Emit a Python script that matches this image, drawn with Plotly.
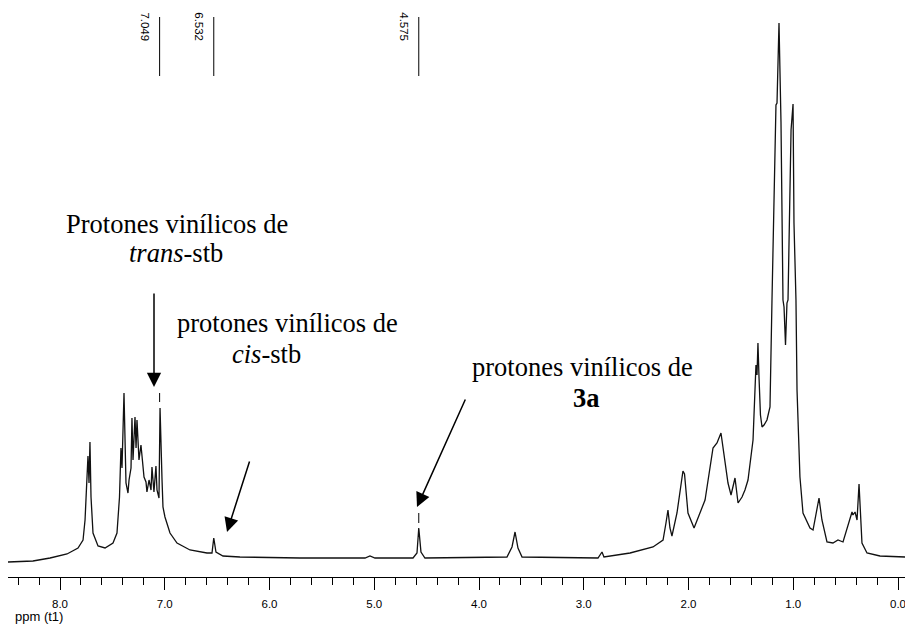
import plotly.graph_objects as go

# ---- data (chemical shift in ppm, intensity in a.u.) ----
ppm = [8.497, 8.258, 8.095, 7.933, 7.828, 7.780, 7.761, 7.742, 7.733, 7.723, 7.714, 7.704, 7.685,
       7.637, 7.570, 7.494, 7.456, 7.432, 7.418, 7.408, 7.389, 7.370, 7.351, 7.341, 7.322, 7.313,
       7.303, 7.284, 7.274, 7.265, 7.246, 7.227, 7.208, 7.198, 7.179, 7.170, 7.150, 7.131, 7.122,
       7.103, 7.084, 7.074, 7.055, 7.045, 7.026, 7.017, 6.998, 6.950, 6.883, 6.759, 6.597, 6.549,
       6.532, 6.511, 6.444, 6.282, 5.709, 5.088, 5.041, 4.993, 4.630, 4.592, 4.575, 4.554, 4.516,
       3.733, 3.685, 3.656, 3.628, 3.589, 2.864, 2.826, 2.807, 2.558, 2.339, 2.243, 2.215, 2.196,
       2.177, 2.158, 2.110, 2.081, 2.062, 2.053, 2.038, 2.005, 1.947, 1.842, 1.766, 1.728, 1.690,
       1.652, 1.623, 1.594, 1.556, 1.527, 1.489, 1.461, 1.432, 1.384, 1.356, 1.346, 1.337, 1.327,
       1.313, 1.298, 1.279, 1.251, 1.222, 1.203, 1.193, 1.165, 1.155, 1.136, 1.117, 1.098, 1.088,
       1.074, 1.060, 1.050, 1.021, 1.002, 0.993, 0.974, 0.964, 0.936, 0.907, 0.840, 0.811, 0.773,
       0.754, 0.726, 0.678, 0.621, 0.573, 0.525, 0.477, 0.439, 0.430, 0.410, 0.391, 0.372, 0.344,
       0.296, 0.172, -0.067]
intensity = [0, 1, 4, 8, 14, 22, 42, 82, 106, 79, 120, 65, 29,
             16, 14, 19, 29, 65, 114, 94, 169, 79, 69, 82, 94, 144,
             102, 145, 114, 142, 102, 117, 94, 85, 80, 70, 82, 72, 95,
             70, 96, 72, 64, 154, 82, 55, 45, 29, 19, 12, 9, 9,
             24, 10, 6, 5, 4, 4, 6, 4, 4, 9, 34, 10, 4,
             5, 15, 30, 14, 5, 4, 10, 5, 9, 15, 22, 39, 52,
             34, 26, 49, 72, 88, 91, 88, 49, 34, 62, 114, 119, 129,
             102, 79, 67, 84, 59, 65, 72, 82, 122, 197, 187, 219, 185,
             147, 135, 137, 142, 155, 262, 322, 457, 459, 539, 440, 262, 255,
             217, 259, 262, 432, 458, 339, 262, 172, 85, 49, 34, 32, 52,
             64, 42, 20, 19, 22, 20, 37, 50, 47, 50, 42, 78, 19,
             9, 6, 5]

peak_labels = [7.049, 6.532, 4.575]
peak_label_text = ["7.049", "6.532", "4.575"]
marked_peaks = [7.049, 4.575]

tick_vals = [8.0, 7.0, 6.0, 5.0, 4.0, 3.0, 2.0, 1.0, 0.0]
tick_text = ["8.0", "7.0", "6.0", "5.0", "4.0", "3.0", "2.0", "1.0", "0.0"]

# ---- layout helpers (pixel -> data, for the fixed page geometry) ----
PX_PER_PPM = 104.75
def X(px):
    return (898 - px) / PX_PER_PPM
def Y(py):
    return 562 - py

fig = go.Figure()
fig.add_trace(go.Scatter(x=ppm, y=intensity, mode="lines",
                         line=dict(color="#111111", width=1.3), hoverinfo="skip"))

shapes = []
annotations = []
for p, t in zip(peak_labels, peak_label_text):
    shapes.append(dict(type="line", xref="x", yref="y", x0=p, x1=p, y0=Y(17), y1=Y(76),
                       line=dict(color="black", width=1)))
    annotations.append(dict(x=p, y=Y(27), xref="x", yref="y", text=t, showarrow=False,
                            textangle=90, xshift=-15,
                            font=dict(family="Arial, Liberation Sans, sans-serif", size=11.5, color="black")))

mark_rows = {7.049: (393, 402), 4.575: (513, 523)}
for p in marked_peaks:
    a, b = mark_rows[p]
    shapes.append(dict(type="line", xref="x", yref="y", x0=p, x1=p, y0=Y(a), y1=Y(b),
                       line=dict(color="black", width=1)))

serif = dict(family="Times New Roman, Liberation Serif, serif", size=26.5, color="black")
def label(px, py, text):
    annotations.append(dict(x=X(px), y=Y(py), xref="x", yref="y", text=text,
                            showarrow=False, font=serif, xanchor="center", yanchor="middle"))

label(177, 224, "Protones vinílicos de")
label(176, 253, "<i>trans</i>-stb")
label(287, 323, "protones vinílicos de")
label(266, 354, "<i>cis</i>-stb")
label(582, 367, "protones vinílicos de")
label(586, 398, "<b>3a</b>")

def arrow(tail, tip):
    annotations.append(dict(x=X(tip[0]), y=Y(tip[1]), xref="x", yref="y", text="",
                            showarrow=True, ax=tail[0] - tip[0], ay=tail[1] - tip[1],
                            arrowhead=2, arrowsize=1.9, arrowwidth=1.5, arrowcolor="black",
                            standoff=0))

arrow((154, 292), (154, 387))
arrow((250, 460), (227, 532))
arrow((466, 398), (417, 507))

annotations.append(dict(x=(13 - 8) / 897, y=(577 - 616) / 577, xref="paper", yref="paper",
                        text="ppm (t1)", showarrow=False, xanchor="left", yanchor="middle",
                        font=dict(family="Arial, Liberation Sans, sans-serif", size=13, color="black")))

fig.update_layout(
    width=905, height=625,
    margin=dict(l=8, r=0, t=0, b=48),
    paper_bgcolor="white", plot_bgcolor="white",
    showlegend=False,
    shapes=shapes, annotations=annotations,
    xaxis=dict(range=[X(8), X(905)], showgrid=False, zeroline=False,
               showline=True, linecolor="black", linewidth=1,
               ticks="outside", ticklen=12, tickwidth=1, tickcolor="black",
               tickvals=tick_vals, ticktext=tick_text, ticklabelstandoff=4,
               ticklabeloverflow="allow",
               tickfont=dict(family="Arial, Liberation Sans, sans-serif", size=11.5, color="black"),
               minor=dict(dtick=0.2, tick0=0, ticks="outside", ticklen=7, tickwidth=1, tickcolor="black"),
               fixedrange=True),
    yaxis=dict(range=[Y(577), Y(0)], visible=False, fixedrange=True),
)

fig.write_html("out.html", config={"displayModeBar": False},
               post_script="document.body.style.margin='0';document.body.style.overflow='hidden';")
